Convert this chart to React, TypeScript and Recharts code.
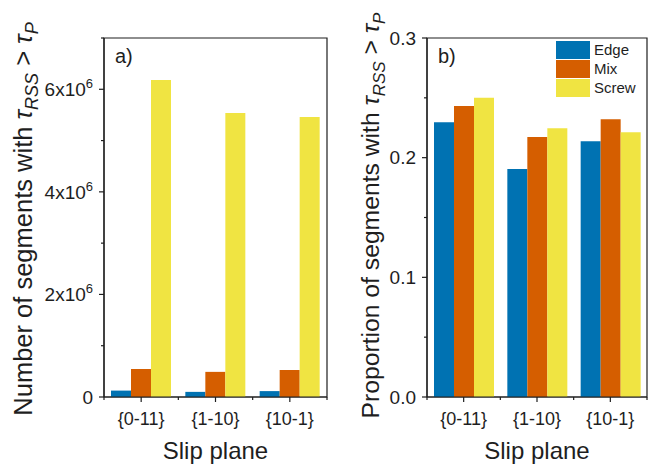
import React from 'react';
import { BarChart, Bar, XAxis, YAxis, Legend, Label, ReferenceArea } from 'recharts';

const categories = ['{0-11}', '{1-10}', '{10-1}'];
const edgeCount = [125000, 100000, 115000];
const mixCount = [546000, 490000, 527000];
const screwCount = [6180000, 5540000, 5460000];
const edgeProp = [0.2295, 0.1905, 0.2137];
const mixProp = [0.2432, 0.2173, 0.2321];
const screwProp = [0.2501, 0.2245, 0.2212];
const countTicks = [0, 1e6, 2e6, 3e6, 4e6, 5e6, 6e6, 7e6];
const propTicks = [0, 0.05, 0.1, 0.15, 0.2, 0.25, 0.3];
const seriesNames = ['Edge', 'Mix', 'Screw'];
const colors = ['#0072B2', '#D55E00', '#F0E442'];

const countData = categories.map((c, i) => ({ cat: c, edge: edgeCount[i], mix: mixCount[i], screw: screwCount[i] }));
const propData = categories.map((c, i) => ({ cat: c, edge: edgeProp[i], mix: mixProp[i], screw: screwProp[i] }));

const FONT = '"Liberation Sans", Arial, Helvetica, sans-serif';
const INK = '#1e1e1e';

const XTick = (props: any) => {
  const { x, y, payload, index, visibleTicksCount, width } = props;
  const off = payload.offset ?? width / visibleTicksCount / 2;
  return (
    <g>
      <line x1={x} x2={x} y1={y} y2={y + 5} stroke={INK} strokeWidth={1.2} />
      <line x1={x - off} x2={x - off} y1={y} y2={y + 3} stroke={INK} strokeWidth={1.2} />
      {index === visibleTicksCount - 1 && (
        <line x1={x + off} x2={x + off} y1={y} y2={y + 3} stroke={INK} strokeWidth={1.2} />
      )}
      <text x={x} y={y + 28} textAnchor="middle" fontSize={18} fontFamily={FONT} fill={INK}>
        {payload.value}
      </text>
    </g>
  );
};

const CountTick = (props: any) => {
  const { x, y, payload } = props;
  const v = payload.value as number;
  const n = v / 1e6;
  const major = Math.round(n) % 2 === 0;
  return (
    <g>
      <line x1={x} x2={x - (major ? 5 : 3)} y1={y} y2={y} stroke={INK} strokeWidth={1.2} />
      {major && (
        <text x={x - 11} y={y} dy="0.35em" textAnchor="end" fontSize={19} fontFamily={FONT} fill={INK}>
          {v === 0 ? '0' : (
            <>
              {`${Math.round(n)}x10`}
              <tspan fontSize={13} dy={-8}>6</tspan>
            </>
          )}
        </text>
      )}
    </g>
  );
};

const PropTick = (props: any) => {
  const { x, y, payload } = props;
  const v = payload.value as number;
  const major = Math.abs(v * 10 - Math.round(v * 10)) < 1e-6;
  return (
    <g>
      <line x1={x} x2={x - (major ? 5 : 3)} y1={y} y2={y} stroke={INK} strokeWidth={1.2} />
      {major && (
        <text x={x - 11} y={y} dy="0.35em" textAnchor="end" fontSize={19} fontFamily={FONT} fill={INK}>
          {v.toFixed(1)}
        </text>
      )}
    </g>
  );
};

const makeYTitle = (prefix: string, dx: number, size: number, dyc: number) => (props: any) => {
  const vb = props.viewBox;
  const cx = vb.x + dx;
  const cy = vb.y + vb.height / 2 + dyc;
  const sub = Math.round(size * 0.7);
  return (
    <text
      x={cx}
      y={cy}
      transform={`rotate(-90 ${cx} ${cy})`}
      textAnchor="middle"
      fontSize={size}
      fontFamily={FONT}
      fill={INK}
    >
      {prefix + ' '}
      <tspan fontStyle="italic">τ</tspan>
      <tspan fontStyle="italic" fontSize={sub} dy={6}>RSS</tspan>
      <tspan dy={-6}>{' > '}</tspan>
      <tspan fontStyle="italic">τ</tspan>
      <tspan fontStyle="italic" fontSize={sub} dy={6}>P</tspan>
    </text>
  );
};

const panelTag = (tag: string) => (props: any) => {
  const vb = props.viewBox;
  return (
    <text x={vb.x + 11} y={vb.y + 25} fontSize={20} fontFamily={FONT} fill={INK}>
      {tag}
    </text>
  );
};

const LegendContent = (props: any) => {
  const { payload } = props;
  return (
    <div style={{ display: 'flex', flexDirection: 'column', gap: 1, fontFamily: FONT }}>
      {(payload || []).map((p: any) => (
        <div key={p.value} style={{ display: 'flex', alignItems: 'center', height: 18 }}>
          <span style={{ display: 'inline-block', width: 34, height: 18, background: p.color }} />
          <span style={{ marginLeft: 4, fontSize: 15, color: INK, lineHeight: '18px' }}>{p.value}</span>
        </div>
      ))}
    </div>
  );
};

const axisLine = { stroke: INK, strokeWidth: 1.2 };

export default function App() {
  return (
    <div style={{ position: 'absolute', left: 0, top: 0, width: 648, height: 464, background: '#fff' }}>
      <div style={{ position: 'absolute', left: 0, top: 0 }}>
        <BarChart width={330} height={464} data={countData} margin={{ top: 38, right: 3, bottom: 0, left: 0 }} barSize={20} barGap={0}>
          <XAxis
            dataKey="cat"
            height={67}
            axisLine={axisLine}
            tickLine={false}
            tickSize={0}
            tickMargin={0}
            tick={<XTick />}
            interval={0}
          >
            <Label value="Slip plane" position="insideBottom" offset={5} fontSize={24} fontFamily={FONT} fill={INK} />
          </XAxis>
          <YAxis
            width={104}
            domain={[0, 7e6]}
            ticks={countTicks}
            interval={0}
            axisLine={axisLine}
            tickLine={false}
            tickSize={0}
            tickMargin={0}
            tick={<CountTick />}
          >
            <Label content={makeYTitle('Number of segments with', 32, 25.5, 1.5)} />
          </YAxis>
          <ReferenceArea
            y1={0}
            y2={7e6}
            fill="none"
            fillOpacity={0}
            stroke={INK}
            strokeWidth={1.2}
            ifOverflow="visible"
            label={panelTag('a)')}
          />
          <Bar dataKey="edge" name={seriesNames[0]} fill={colors[0]} isAnimationActive={false} />
          <Bar dataKey="mix" name={seriesNames[1]} fill={colors[1]} isAnimationActive={false} />
          <Bar dataKey="screw" name={seriesNames[2]} fill={colors[2]} isAnimationActive={false} />
        </BarChart>
      </div>
      <div style={{ position: 'absolute', left: 330, top: 0 }}>
        <BarChart width={318} height={464} data={propData} margin={{ top: 38, right: 1, bottom: 0, left: 0 }} barSize={20} barGap={0}>
          <XAxis
            dataKey="cat"
            height={67}
            axisLine={axisLine}
            tickLine={false}
            tickSize={0}
            tickMargin={0}
            tick={<XTick />}
            interval={0}
          >
            <Label value="Slip plane" position="insideBottom" offset={5} fontSize={24} fontFamily={FONT} fill={INK} />
          </XAxis>
          <YAxis
            width={97}
            domain={[0, 0.3]}
            ticks={propTicks}
            interval={0}
            axisLine={axisLine}
            tickLine={false}
            tickSize={0}
            tickMargin={0}
            tick={<PropTick />}
          >
            <Label content={makeYTitle('Proportion of segments with', 49, 24.7, -2)} />
          </YAxis>
          <ReferenceArea
            y1={0}
            y2={0.3}
            fill="none"
            fillOpacity={0}
            stroke={INK}
            strokeWidth={1.2}
            ifOverflow="visible"
            label={panelTag('b)')}
          />
          <Legend
            layout="vertical"
            align="center"
            verticalAlign="middle"
            content={<LegendContent />}
            wrapperStyle={{ left: 226, top: 41, width: 90, height: 60 }}
          />
          <Bar dataKey="edge" name={seriesNames[0]} fill={colors[0]} isAnimationActive={false} />
          <Bar dataKey="mix" name={seriesNames[1]} fill={colors[1]} isAnimationActive={false} />
          <Bar dataKey="screw" name={seriesNames[2]} fill={colors[2]} isAnimationActive={false} />
        </BarChart>
      </div>
    </div>
  );
}
